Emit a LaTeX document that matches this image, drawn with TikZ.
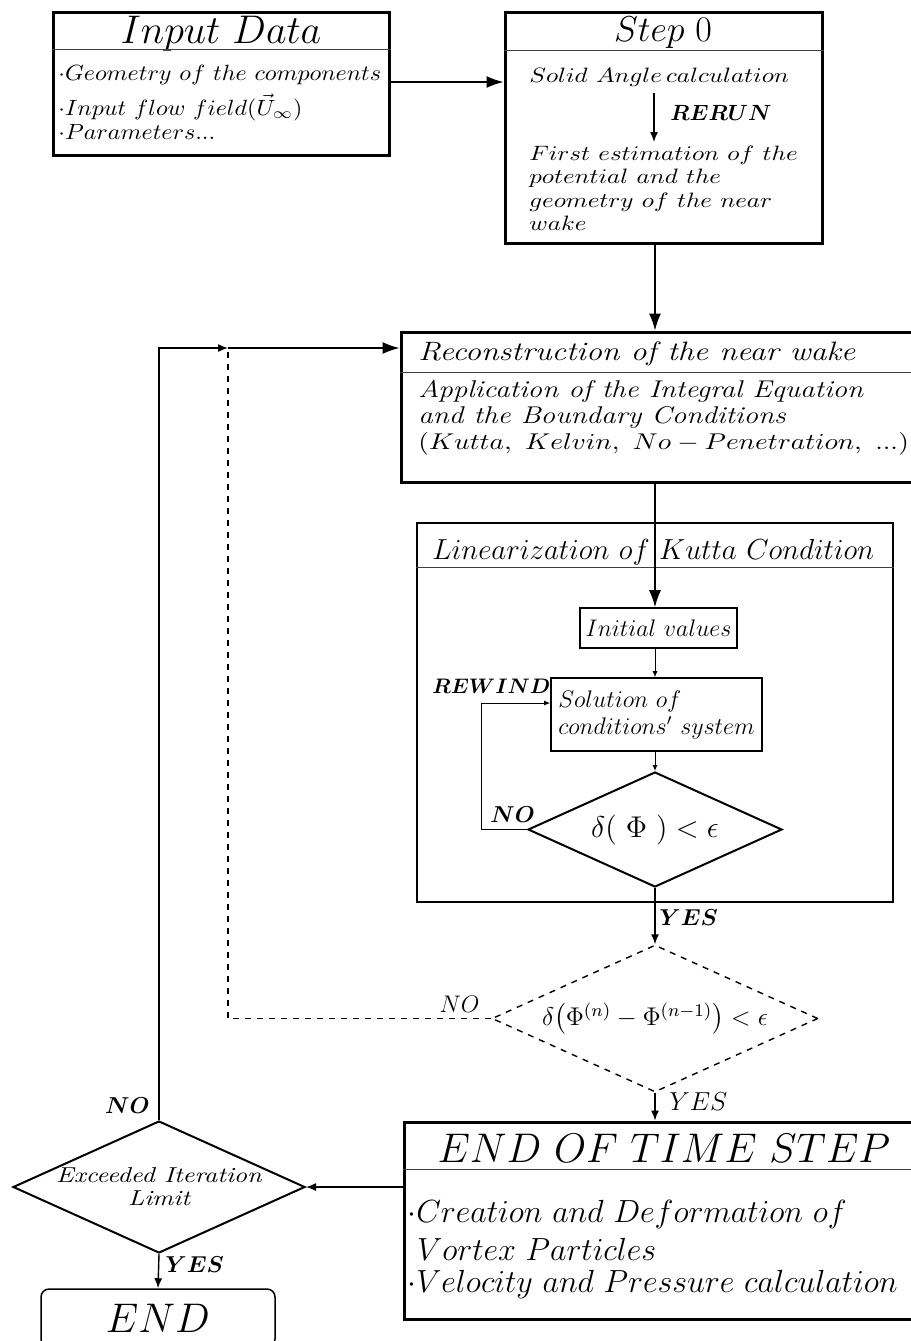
\RequirePackage{fix-cm}
\documentclass[tikz,border=0pt]{standalone}
\usepackage{amsmath,amssymb,amsfonts}
\usepackage{graphicx}
\usepackage{xcolor}
\usepackage{tikz}
\usetikzlibrary{shapes.geometric,arrows.meta}
\newcommand{\fsz}[2]{\fontsize{#1}{#2}\selectfont\lineskiplimit=-10pt}
\newcommand{\wide}[1]{\scalebox{1.2}[1]{#1}}
\tikzstyle{block} = [rectangle, draw=black, line width=1.5pt, inner sep=0pt]
\tikzstyle{process} = [rectangle, draw=black, line width=0.8pt, inner sep=0pt]
\tikzstyle{decision} = [diamond, aspect=2.2, draw=black, line width=1pt, inner sep=0pt]
\tikzstyle{txt} = [inner sep=0pt, align=left, anchor=base west]
\tikzstyle{txtblock} = [inner sep=0pt, align=left, anchor=north west]
\tikzstyle{title} = [inner sep=0pt, anchor=base]
\tikzstyle{divider} = [line width=0.5pt, black!75]
\tikzstyle{arrow} = [line width=0.7pt, -{Latex[length=8.5pt,width=6pt]}]
\tikzstyle{midarrow} = [line width=0.7pt, -{Latex[length=5pt,width=4pt]}]
\tikzstyle{thinarrow} = [line width=0.5pt, -{Latex[length=3pt,width=2.5pt]}]

\begin{document}
\begin{tikzpicture}[x=0.5pt, y=-0.5pt]
        \useasboundingbox (0,0) rectangle (911,1341);
        \clip (0,0) rectangle (911,1341);
        % input data and step 0
        \node (input) [block, minimum width=168pt, minimum height=71.5pt] at (221,83.5) {};
        \node (intitle) [title, font=\fsz{20}{24}] at (221,43) {$Input\ Data$};
        \draw [divider] (input.west |- 0,49) -- (input.east |- 0,49);
        \node (inbody) [txtblock, font=\fsz{11}{12.5}] at (58,64.7) {\scalebox{1.09}[1]{$\cdot Geometry\ of\ the\ components$}\\[5pt] \scalebox{1.09}[1]{$\cdot Input\ flow\ field(\vec{U}_{\infty})$}\\[-0.5pt] \scalebox{1.09}[1]{$\cdot Parameters...$}};
        \node (step0) [block, minimum width=158.5pt, minimum height=115.5pt] at (663.5,127.5) {};
        \node (s0title) [title, font=\fsz{18}{22}] at (663,41) {$Step\ 0$};
        \draw [divider] (step0.west |- 0,50) -- (step0.east |- 0,50);
        \node (solid) [txt, font=\fsz{10.4}{15}] at (529,82) {\wide{$Solid\ Angle\,calculation$}};
        \node (rerun) [txt, font=\fsz{11}{14}] at (670,120) {$\boldsymbol{RERUN}$};
        \node (first) [txtblock, font=\fsz{10.4}{11.7}] at (529,145.6) {\wide{$First\ estimation\ of\ the$}\\ \wide{$potential\ and\ the$}\\ \wide{$geometry\ of\ the\ near$}\\ \wide{$wake$}};
        % reconstruction
        \node (recon) [block, minimum width=262pt, minimum height=75pt] at (663,407) {};
        \node (rectitle) [txt, font=\fsz{13.3}{17}\itshape] at (418,360) {\wide{Reconstruction of the near wake}};
        \draw [divider] (recon.west |- 0,372) -- (recon.east |- 0,372);
        \node (recbody) [txtblock, font=\fsz{12.1}{13}] at (418,380.2) {\wide{\textit{Application of the Integral Equation}}\\ \wide{\textit{and the Boundary Conditions}}\\ \wide{\fsz{11.4}{13}$(Kutta,\ Kelvin,\ No-Penetration,\ ...)$}};
        % linearization of kutta condition
        \node (linbox) [rectangle, draw=black, line width=1pt, minimum width=238pt, minimum height=189.5pt] at (655,712.5) {};
        \node (lintitle) [txt, font=\fsz{14.5}{17}] at (432,559) {$Linearization\ of\ Kutta\ Condition$};
        \draw [divider] (linbox.west |- 0,567) -- (linbox.east |- 0,567);
        \node (init) [process, minimum width=78.5pt, minimum height=20pt, font=\fsz{12}{14}] at (658.5,628) {$Initial\ values$};
        \node (sol) [process, minimum width=105.5pt, minimum height=36.5pt, align=left, font=\fsz{12}{13.5}] at (656.5,714.5) {$Solution\ of$\\ $conditions'\ system$};
        \node (lindec) [decision, minimum width=127pt, minimum height=57.5pt, font=\fsz{15}{18}] at (655,829.5) {$\delta(\ \Phi\ )<\epsilon$};
        \node (rewind) [txt, font=\fsz{10.5}{13}] at (432,693) {$\boldsymbol{REWIND}$};
        \node (no1) [txt, font=\fsz{11.5}{13}] at (490,822) {$\boldsymbol{NO}$};
        \node (yes1) [txt, font=\fsz{11.5}{13}] at (659,925) {$\boldsymbol{YES}$};
        % convergence and end of time step
        \node (conv) [decision, dashed, line width=0.7pt, minimum width=163pt, minimum height=73.5pt, font=\fsz{12.8}{16}] at (655,1018.5) {$\delta\big(\Phi^{(n)}-\Phi^{(n-1)}\big)<\epsilon$};
        \node (no2) [inner sep=0pt, anchor=base east, font=\fsz{12}{14}] at (480,1012) {$NO$};
        \node (yes2) [txt, font=\fsz{13}{15}] at (669,1110) {$YES$};
        \node (eots) [block, minimum width=260.5pt, minimum height=98.5pt] at (664.5,1220.5) {};
        \node (eotstitle) [title, font=\fsz{20.7}{25}] at (664,1162) {$END\ OF\ TIME\ STEP$};
        \draw [divider] (eots.west |- 0,1169) -- (eots.east |- 0,1169);
        \node (eotsbody) [txtblock, font=\fsz{16}{16}] at (407,1200) {$\cdot Creation\ and\ Deformation\ of$\\[3pt] $\ Vortex\ Particles$\\ $\cdot Velocity\ and\ Pressure\ calculation$};
        \node (exceed) [decision, inner sep=-4pt, minimum width=146pt, minimum height=66pt, align=center, font=\fsz{10.8}{11.5}\itshape] at (159,1187) {\wide{Exceeded Iteration}\\ \wide{Limit}};
        \node (no3) [inner sep=0pt, anchor=base east, font=\fsz{11.5}{13}] at (150,1113) {$\boldsymbol{NO}$};
        \node (yes3) [txt, font=\fsz{11.5}{13}] at (165,1272) {$\boldsymbol{YES}$};
        \node (endbox) [rectangle, rounded corners=4pt, draw=black, line width=0.75pt, minimum width=117pt, minimum height=29pt, font=\fsz{20.7}{25}] at (158,1318) {$END$};
        \coordinate (rerunA) at (654,93);
        \coordinate (rerunB) at (654,142);
        \coordinate (junc) at (228,348);
        \coordinate (loop) at (481,703);
        % connectors
        \draw [arrow] (input.east |- solid.base) -- (step0.west |- solid.base);
        \draw [midarrow] (rerunA) -- (rerunB);
        \draw [arrow] (step0.south -| lindec) -- (recon.north -| lindec);
        \draw [arrow] (recon.south -| lindec) -- (init.north -| lindec);
        \draw [thinarrow] (init.south -| lindec) -- (sol.north -| lindec);
        \draw [thinarrow] (sol.south -| lindec) -- (lindec.north);
        \draw [thinarrow] (lindec.west) -| (loop) -- (sol.west |- loop);
        \draw [midarrow] (lindec.south) -- (conv.north);
        \draw [midarrow] (conv.south) -- (eots.north -| conv);
        \draw [dashed, line width=0.6pt] (conv.west) -| (junc);
        \draw [midarrow] (eots.west |- exceed) -- (exceed.east);
        \draw [midarrow] (exceed.north) |- (junc);
        \draw [arrow] (junc) -- (recon.west |- junc);
        \draw [midarrow] (exceed.south) -- (endbox.north);
    \end{tikzpicture}
\end{document}
